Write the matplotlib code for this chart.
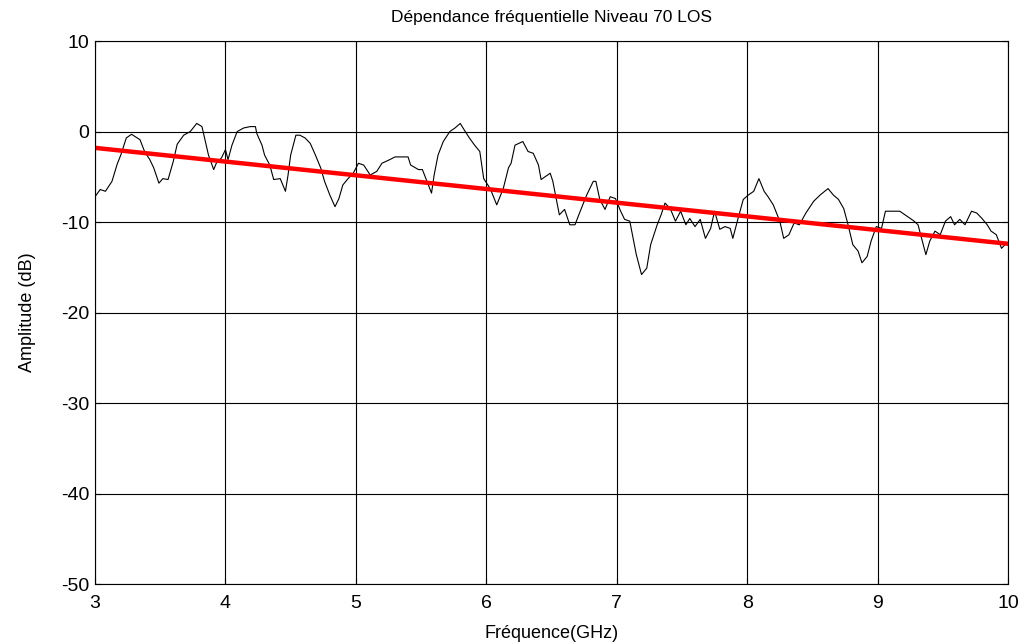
import matplotlib
matplotlib.use("Agg")
import matplotlib.pyplot as plt
import numpy as np

plt.rcParams['font.family'] = ['Liberation Sans', 'DejaVu Sans']
plt.rcParams['axes.unicode_minus'] = False

freq = [3.00, 3.04, 3.08, 3.13, 3.17, 3.20, 3.24, 3.28, 3.345, 3.38, 3.42, 3.45, 3.49, 3.52, 3.56,
        3.60, 3.63, 3.68, 3.73, 3.78, 3.82, 3.84, 3.87, 3.91, 3.93, 3.97, 4.00, 4.02, 4.05, 4.09,
        4.14, 4.19, 4.23, 4.24, 4.28, 4.30, 4.34, 4.37, 4.42, 4.46, 4.48, 4.50, 4.54, 4.57, 4.61,
        4.65, 4.69, 4.73, 4.76, 4.80, 4.84, 4.87, 4.90, 4.94, 4.98, 5.02, 5.06, 5.11, 5.16, 5.20,
        5.26, 5.30, 5.35, 5.40, 5.42, 5.48, 5.51, 5.54, 5.58, 5.60, 5.63, 5.67, 5.72, 5.76, 5.80,
        5.83, 5.87, 5.91, 5.95, 5.98, 6.03, 6.08, 6.13, 6.17, 6.19, 6.22, 6.28, 6.32, 6.36, 6.40,
        6.42, 6.49, 6.51, 6.56, 6.60, 6.64, 6.68, 6.72, 6.77, 6.82, 6.84, 6.87, 6.91, 6.95, 6.99,
        7.03, 7.06, 7.10, 7.13, 7.15, 7.19, 7.23, 7.26, 7.31, 7.34, 7.37, 7.41, 7.45, 7.49, 7.53,
        7.56, 7.60, 7.64, 7.68, 7.72, 7.75, 7.79, 7.83, 7.87, 7.89, 7.93, 7.97, 8.01, 8.05, 8.09,
        8.13, 8.16, 8.20, 8.25, 8.28, 8.32, 8.36, 8.40, 8.45, 8.51, 8.56, 8.62, 8.66, 8.70, 8.74,
        8.77, 8.81, 8.85, 8.88, 8.92, 8.95, 8.99, 9.03, 9.06, 9.12, 9.17, 9.23, 9.28, 9.31, 9.37,
        9.40, 9.44, 9.48, 9.52, 9.56, 9.59, 9.63, 9.67, 9.72, 9.76, 9.80, 9.84, 9.87, 9.91, 9.95,
        9.99]
amplitude = [-7.2, -6.4, -6.6, -5.5, -3.6, -2.5, -0.7, -0.3, -0.9, -2.2, -3.1, -4.0, -5.7, -5.2, -5.3,
             -3.3, -1.4, -0.4, 0.0, 0.9, 0.55, -0.7, -2.6, -4.2, -3.5, -2.9, -2.0, -3.1, -1.5, 0.0,
             0.4, 0.55, 0.55, -0.2, -1.5, -2.6, -3.7, -5.3, -5.2, -6.6, -4.8, -2.6, -0.4, -0.4, -0.7,
             -1.3, -2.6, -4.0, -5.5, -7.0, -8.3, -7.4, -5.9, -5.2, -4.6, -3.5, -3.7, -4.8, -4.4, -3.5,
             -3.1, -2.8, -2.8, -2.8, -3.7, -4.2, -4.2, -5.3, -6.8, -4.8, -2.6, -1.1, 0.0, 0.4, 0.9,
             0.2, -0.7, -1.5, -2.2, -5.2, -6.3, -8.1, -6.3, -4.0, -3.5, -1.5, -1.1, -2.2, -2.4, -3.7,
             -5.3, -4.6, -5.5, -9.2, -8.6, -10.3, -10.3, -8.8, -7.0, -5.5, -5.5, -7.5, -8.6, -7.2, -7.4,
             -8.8, -9.7, -9.9, -12.1, -13.6, -15.8, -15.1, -12.5, -10.3, -9.2, -7.9, -8.5, -9.9, -8.8, -10.3,
             -9.6, -10.5, -9.7, -11.8, -10.7, -8.8, -10.8, -10.5, -10.7, -11.8, -9.6, -7.5, -7.0, -6.6, -5.2,
             -6.6, -7.2, -8.1, -9.9, -11.8, -11.4, -10.1, -10.3, -9.0, -7.7, -7.0, -6.3, -7.0, -7.5, -8.5,
             -10.1, -12.5, -13.2, -14.5, -13.8, -12.1, -10.5, -10.7, -8.8, -8.8, -8.8, -9.4, -9.9, -10.3, -13.6,
             -12.1, -11.0, -11.4, -9.9, -9.4, -10.3, -9.7, -10.3, -8.8, -9.0, -9.6, -10.3, -11.0, -11.4, -12.9,
             -12.3]

fit_freq = [3.0, 10.0]
fit_amp = [-1.8, -12.4]

x_ticks = [3, 4, 5, 6, 7, 8, 9, 10]
y_ticks = [-50, -40, -30, -20, -10, 0, 10]

fig = plt.figure(figsize=(10.26, 6.42), dpi=100)
ax = fig.add_axes([0.0926, 0.0903, 0.8899, 0.8457])

ax.plot(freq, amplitude, color='black', linewidth=0.8)
ax.plot(fit_freq, fit_amp, color='#ff0000', linewidth=3.2)

ax.set_xlim(3, 10)
ax.set_ylim(-50, 10)
ax.set_xticks(x_ticks)
ax.set_yticks(y_ticks)
ax.grid(True, color='black', linewidth=0.8, linestyle='-')
ax.set_axisbelow(True)
ax.tick_params(direction='in', top=True, right=True, length=4, labelsize=14)
ax.tick_params(axis='x', pad=8)
ax.tick_params(axis='y', pad=4)
for s in ax.spines.values():
    s.set_linewidth(0.8)

ax.set_title('Dépendance fréquentielle Niveau 70 LOS', fontsize=12.5, pad=14)
ax.set_xlabel('Fréquence(GHz)', fontsize=13, labelpad=9)
ax.set_ylabel('Amplitude (dB)', fontsize=13, labelpad=18)

fig.savefig('out.png', dpi=100)
